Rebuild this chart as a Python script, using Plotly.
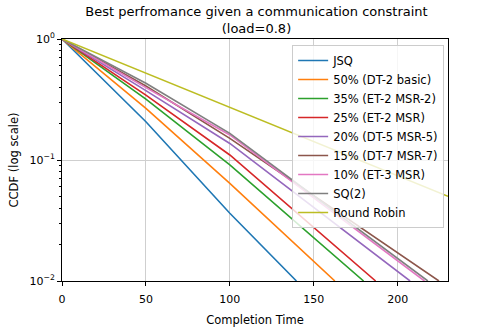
import plotly.graph_objects as go

# values (x = completion time, y = CCDF)
names = ["JSQ", "50% (DT-2 basic)", "35% (ET-2 MSR-2)", "25% (ET-2 MSR)",
         "20% (DT-5 MSR-5)", "15% (DT-7 MSR-7)", "10% (ET-3 MSR)", "SQ(2)", "Round Robin"]
colors = ["#1f77b4", "#ff7f0e", "#2ca02c", "#d62728", "#9467bd",
          "#8c564b", "#e377c2", "#7f7f7f", "#bcbd22"]

jsq_x = [0, 50, 100, 139.7]
jsq_y = [1, 0.207, 0.0363, 0.01]
dt2_x = [0, 50, 100, 162.6]
dt2_y = [1, 0.267, 0.0641, 0.01]
et2msr2_x = [0, 50, 100, 179.7]
et2msr2_y = [1, 0.318, 0.0910, 0.01]
et2msr_x = [0, 50, 100, 186.9]
et2msr_y = [1, 0.344, 0.110, 0.01]
dt5_x = [0, 50, 100, 207.4]
dt5_y = [1, 0.374, 0.137, 0.01]
dt7_x = [0, 50, 100, 224.6]
dt7_y = [1, 0.409, 0.151, 0.01]
et3_x = [0, 50, 100, 216]
et3_y = [1, 0.396, 0.161, 0.01]
sq2_x = [0, 50, 100, 218]
sq2_y = [1, 0.431, 0.166, 0.01]
rr_x = [0, 230]
rr_y = [1, 0.0501]

xs = [jsq_x, dt2_x, et2msr2_x, et2msr_x, dt5_x, dt7_x, et3_x, sq2_x, rr_x]
ys = [jsq_y, dt2_y, et2msr2_y, et2msr_y, dt5_y, dt7_y, et3_y, sq2_y, rr_y]

fig = go.Figure()
for n, c, x, y in zip(names, colors, xs, ys):
    fig.add_trace(go.Scatter(x=x, y=y, mode="lines", name=n,
                             line=dict(color=c, width=1.6)))

minor_vals = [m * 10 ** e for e in (-2, -1) for m in range(2, 10)]

fig.update_layout(
    width=498, height=332,
    margin=dict(l=62, r=50, t=39, b=51, autoexpand=False),
    paper_bgcolor="white", plot_bgcolor="white",
    font=dict(family="DejaVu Sans", size=11, color="black"),
    title=dict(text="Best perfromance given a communication constraint<br>(load=0.8)",
               x=0.515, xanchor="center", yref="container", y=0.953, yanchor="bottom",
               font=dict(size=13)),
    showlegend=True,
    legend=dict(x=0.99, xanchor="right", y=0.975, yanchor="top",
                bgcolor="rgba(255,255,255,0.8)", bordercolor="#cccccc", borderwidth=1,
                font=dict(size=11.5), tracegroupgap=0, itemwidth=30),
)
fig.update_xaxes(
    range=[0, 230], tickvals=[0, 50, 100, 150, 200], automargin=False,
    showline=True, linecolor="black", linewidth=1, mirror=True,
    ticks="outside", ticklen=4, tickcolor="black", ticklabelstandoff=4,
    showgrid=True, gridcolor="#cfcfcf", gridwidth=1, zeroline=False,
    title=dict(text="Completion Time", standoff=10, font=dict(size=11.5)),
)
fig.update_yaxes(
    type="log", range=[-2, 0], automargin=False,
    tickvals=[0.01, 0.1, 1],
    ticktext=["10<sup>−2</sup>", "10<sup>−1</sup>", "10<sup>0</sup>"],
    showline=True, linecolor="black", linewidth=1, mirror=True,
    ticks="outside", ticklen=4, tickcolor="black",
    showgrid=True, gridcolor="#cfcfcf", gridwidth=1, zeroline=False,
    minor=dict(tickvals=minor_vals, ticks="outside", ticklen=2, tickcolor="black", showgrid=False),
    title=dict(text="CCDF (log scale)", standoff=8, font=dict(size=11.5)),
)

fig.write_html("out.html", config={"displayModeBar": False},
               post_script="document.body.style.margin='0';")
